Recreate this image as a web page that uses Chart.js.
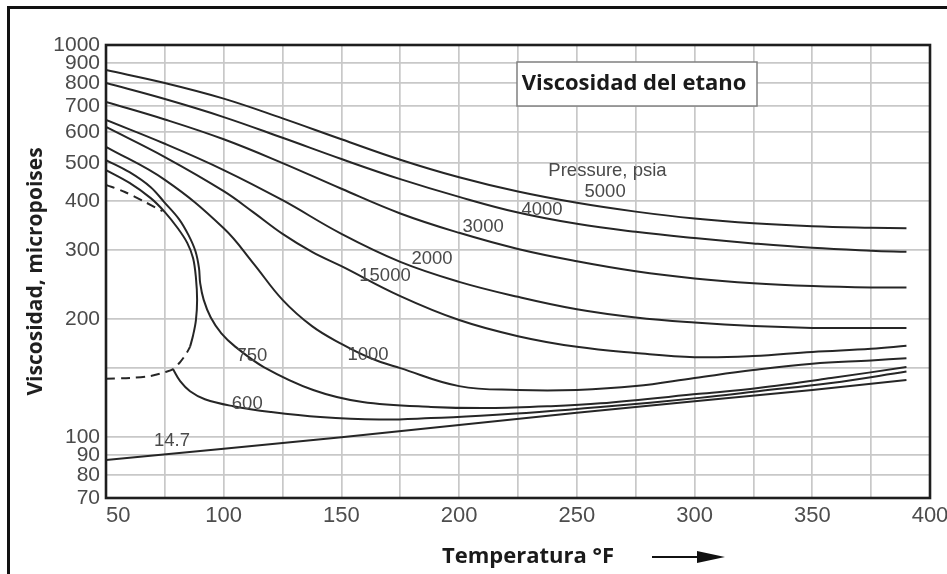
<!DOCTYPE html>
<html>
<head>
<meta charset="utf-8">
<script src="https://cdn.jsdelivr.net/npm/chart.js@4.4.1/dist/chart.umd.min.js"></script>
<style>
  html, body { margin: 0; padding: 0; background: #ffffff; }
  canvas { display: block; }
</style>
</head>
<body>
<canvas id="chart" width="947" height="574"></canvas>
<script>
// Temperature grid (°F) for the high-pressure isobars
const temps = [50, 75, 100, 125, 150, 175, 200, 225, 250, 275, 300, 325, 350, 375, 390];
// Viscosity (micropoises) along each isobar
const visc5000 = [863, 800, 730, 650, 575, 510, 460, 423, 396, 376, 361, 351, 345, 342, 341];
const visc4000 = [800, 728, 655, 580, 512, 455, 410, 374, 350, 334, 322, 312, 304, 299, 297];
const visc3000 = [716, 646, 575, 500, 430, 372, 332, 302, 281, 265, 254, 247, 243, 241, 241];
const visc2000 = [644, 560, 480, 402, 330, 280, 249, 228, 212, 202, 196, 192, 190, 190, 190];

const temps1500 = [50, 75, 100, 112.5, 125, 137.5, 150, 175, 200, 225, 250, 275, 300, 325, 350, 375, 390];
const visc1500  = [618, 518, 424, 375, 330, 297, 273, 229, 199, 181, 170, 164, 160, 161, 165, 168, 171];

const temps1000 = [50, 75, 100, 112.5, 125, 137.5, 150, 162.5, 175, 200, 225, 250, 275, 300, 325, 350, 375, 390];
const visc1000  = [550, 453, 341, 278, 224, 192, 173, 159, 150, 135, 132, 132, 135, 141.6, 148.4, 154, 157, 159];

const temps750 = [50, 60, 69, 75, 81, 85, 88, 89.5, 90, 91.5, 94.5, 99, 105, 117, 138, 159, 188, 213, 239, 260, 302, 327, 358, 390];
const visc750  = [509, 474, 434, 396, 360, 328, 298, 270, 247, 224, 202, 184, 170, 151, 132, 123, 119.5, 118.7, 120, 122, 129, 133.5, 141.5, 151];

// 600 psia: liquid branch running into the near-critical region
const temps600Liquid = [50, 60, 69, 75, 80.5, 84.5, 87, 88.2, 88.7, 88.2, 87, 85.7];
const visc600Liquid  = [480, 445, 407, 375, 341, 313, 286, 255, 224, 199, 182, 170];
// 600 psia: vapor branch
const temps600Vapor = [78.5, 81.5, 85.7, 92, 104, 120, 141, 166, 188, 209, 234, 260, 302, 327, 358, 390];
const visc600Vapor  = [149, 139, 131, 125, 120, 116, 112.6, 111, 111.9, 113.5, 116, 119.4, 126, 131, 137.5, 147];

// Saturation envelope (dashed)
const tempsSatLiquid = [50, 58, 66.5, 74];
const viscSatLiquid  = [440, 422, 398, 377];
const tempsSatVapor = [50, 60.2, 68.7, 75.1, 78.5, 81.5, 84, 85.7];
const viscSatVapor  = [141, 141.6, 143.2, 146.6, 149.2, 155.5, 163, 170];

// Atmospheric pressure line
const temps147 = [50, 100, 150, 200, 250, 300, 350, 390];
const visc147  = [87.5, 93.5, 100, 107.5, 115.5, 123.5, 132, 140];

// Axis ticks
const xTickValues = [50, 75, 100, 125, 150, 175, 200, 225, 250, 275, 300, 325, 350, 375, 400];
const xTickLabels = ['50', '', '100', '', '150', '', '200', '', '250', '', '300', '', '350', '', '400'];
const yTickValues = [70, 80, 90, 100, 150, 200, 300, 400, 500, 600, 700, 800, 900, 1000];
const yTickLabels = ['70', '80', '90', '100', '', '200', '300', '400', '500', '600', '700', '800', '900', '1000'];

// Isobar annotations placed in data coordinates
const labelTexts = ['Pressure, psia', '5000', '4000', '3000', '2000', '15000', '1000', '750', '600', '14.7'];
const labelTemps = [263, 262, 235.2, 210.2, 188.5, 168.5, 161.3, 112, 110, 78];
const labelVisc  = [477, 422, 380, 344, 285, 258, 162, 161, 121.5, 97.8];

const chartTitle = 'Viscosidad del etano';
const xTitle = 'Temperatura °F';
const yTitle = 'Viscosidad, micropoises';

const SANS = '"Liberation Sans", Arial, Helvetica, sans-serif';
const BOLD = '"Open Sans", Lato, sans-serif';

function series(label, xs, ys, extra) {
  return Object.assign({
    label,
    data: xs.map((x, i) => ({ x, y: ys[i] })),
    borderColor: '#262626',
    borderWidth: 2,
    pointRadius: 0,
    fill: false,
    tension: 0.4
  }, extra || {});
}

const decorations = {
  id: 'decorations',
  beforeDraw(chart) {
    const { ctx, width, height } = chart;
    ctx.save();
    ctx.fillStyle = '#ffffff';
    ctx.fillRect(0, 0, width, height);
    // page frame
    ctx.strokeStyle = '#111111';
    ctx.lineWidth = 3;
    ctx.beginPath();
    ctx.moveTo(8.5, height);
    ctx.lineTo(8.5, 7.5);
    ctx.lineTo(width, 7.5);
    ctx.stroke();
    ctx.restore();
  },
  afterDatasetsDraw(chart) {
    const { ctx, chartArea: a, scales: { x, y } } = chart;
    ctx.save();
    // plot frame
    ctx.strokeStyle = '#1e1e1e';
    ctx.lineWidth = 2.6;
    ctx.strokeRect(a.left, a.top, a.right - a.left, a.bottom - a.top);

    // isobar labels
    ctx.font = '18.5px ' + SANS;
    ctx.fillStyle = '#4a4a4a';
    ctx.textAlign = 'center';
    ctx.textBaseline = 'middle';
    labelTexts.forEach((t, i) => {
      ctx.fillText(t, x.getPixelForValue(labelTemps[i]), y.getPixelForValue(labelVisc[i]));
    });

    // title box
    const bx = a.left + 411, by = a.top + 17, bw = 240, bh = 44;
    ctx.fillStyle = '#ffffff';
    ctx.fillRect(bx, by, bw, bh);
    ctx.strokeStyle = '#808080';
    ctx.lineWidth = 1.5;
    ctx.strokeRect(bx, by, bw, bh);
    ctx.fillStyle = '#1a1a1a';
    ctx.font = 'bold 22px ' + BOLD;
    ctx.fillText(chartTitle, bx + bw / 2 - 3, by + bh / 2);

    // x axis title with arrow
    const tx = a.left + 422, ty = 557;
    ctx.font = 'bold 22px ' + BOLD;
    ctx.fillText(xTitle, tx, ty);
    ctx.strokeStyle = '#111111';
    ctx.lineWidth = 2;
    ctx.beginPath();
    ctx.moveTo(652, ty);
    ctx.lineTo(700, ty);
    ctx.stroke();
    ctx.fillStyle = '#111111';
    ctx.beginPath();
    ctx.moveTo(697, ty - 6);
    ctx.lineTo(725, ty);
    ctx.lineTo(697, ty + 6);
    ctx.closePath();
    ctx.fill();
    ctx.restore();
  }
};

new Chart(document.getElementById('chart'), {
  type: 'line',
  data: {
    datasets: [
      series('5000 psia', temps, visc5000),
      series('4000 psia', temps, visc4000),
      series('3000 psia', temps, visc3000),
      series('2000 psia', temps, visc2000),
      series('1500 psia', temps1500, visc1500),
      series('1000 psia', temps1000, visc1000),
      series('750 psia', temps750, visc750, { tension: 0.35 }),
      series('600 psia liquid', temps600Liquid, visc600Liquid, { tension: 0.35 }),
      series('600 psia vapor', temps600Vapor, visc600Vapor),
      series('saturated liquid', tempsSatLiquid, viscSatLiquid, { borderDash: [9, 6], tension: 0.3 }),
      series('saturated vapor', tempsSatVapor, viscSatVapor, { borderDash: [9, 6], tension: 0.3 }),
      series('14.7 psia', temps147, visc147, { tension: 0 })
    ]
  },
  options: {
    responsive: false,
    animation: false,
    devicePixelRatio: 1,
    layout: { padding: { left: 0, top: 45, right: 17, bottom: 0 } },
    plugins: {
      legend: { display: false },
      tooltip: { enabled: false },
      title: { display: false }
    },
    scales: {
      x: {
        type: 'linear',
        min: 50,
        max: 400,
        afterBuildTicks: (s) => { s.ticks = xTickValues.map(v => ({ value: v })); },
        ticks: {
          autoSkip: false,
          maxRotation: 0,
          padding: 5,
          color: '#4d4d4d',
          font: { family: SANS, size: 22 },
          callback: (v, i) => (i === 0 ? '    ' + xTickLabels[i] : xTickLabels[i])
        },
        grid: { color: '#c8c8c8', lineWidth: 1.7, drawTicks: false },
        border: { display: false },
        afterFit: (s) => { s.height = 76; s.paddingLeft = 0; s.paddingRight = 0; }
      },
      y: {
        type: 'logarithmic',
        min: 70,
        max: 1000,
        afterBuildTicks: (s) => { s.ticks = yTickValues.map(v => ({ value: v })); },
        ticks: {
          autoSkip: false,
          padding: 6,
          color: '#4a4a4a',
          font: { family: SANS, size: 21 },
          callback: (v, i) => yTickLabels[i]
        },
        grid: { color: '#c8c8c8', lineWidth: 1.7, drawTicks: false },
        border: { display: false },
        title: {
          display: true,
          text: yTitle,
          color: '#1f1f1f',
          font: { family: BOLD, weight: 'bold', size: 21 },
          padding: { top: 23, bottom: 0 }
        },
        afterFit: (s) => { s.width = 106; s.paddingTop = 0; s.paddingBottom = 0; }
      }
    }
  },
  plugins: [decorations]
});
</script>
</body>
</html>
